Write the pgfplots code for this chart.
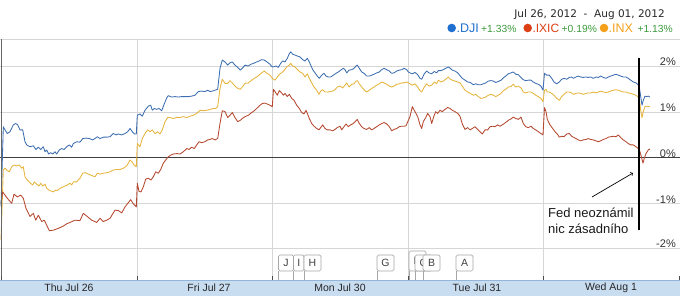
\documentclass[border=0pt]{standalone}
\usepackage{fontspec}
\setmainfont{Liberation Sans}
\newfontfamily\dvs{DejaVu Sans}
\usepackage{pgfplots}
\pgfplotsset{compat=1.18}
\usepackage{pgfplotstable}
\definecolor{cblue}{HTML}{3C6DB0}
\definecolor{cred}{HTML}{B5472E}
\definecolor{cyel}{HTML}{E6B43C}
\definecolor{lblue}{HTML}{1F6FD0}
\definecolor{lred}{HTML}{DC3F14}
\definecolor{lorange}{HTML}{F5A01A}
\definecolor{lgreen}{HTML}{3C9A3C}
\definecolor{gridc}{HTML}{D6D6D6}
\definecolor{band}{HTML}{C9DDF1}
\definecolor{bandline}{HTML}{93B5DA}
\definecolor{txt}{HTML}{333333}

\pgfplotstableread{
x y
1 -1.07
3.3 0.68
5 0.61
7.3 0.53
10 0.57
13.3 0.72
15.7 0.75
17.7 0.72
20 0.61
22.7 0.61
25 0.35
26.7 0.28
30 0.24
33.3 0.26
36 0.18
38.3 0.23
40.7 0.18
43.3 0.24
45 0.13
46.7 0.17
48.7 0.08
50.7 0.11
52.7 0.08
55 0.13
56.7 0.08
59.3 0.17
61.7 0.20
64 0.18
66.7 0.24
69.3 0.28
71.7 0.23
73.3 0.31
76.7 0.35
80 0.34
82.7 0.42
86 0.43
89.3 0.42
92.7 0.39
95 0.42
97.3 0.46
100 0.42
103.3 0.45
106.7 0.45
110 0.46
113.3 0.53
116 0.50
118.3 0.52
121.7 0.50
125 0.53
127.7 0.57
130 0.64
132.3 0.57
134.5 0.52
136.3 0.52
137.3 0.93
140 0.96
142.3 0.91
145 1.04
148.3 1.13
150.7 1.15
152.3 1.04
154.3 1.08
156.7 1.06
159 1.08
161.7 1.03
164.3 1.18
166.7 1.31
168.3 1.36
171.7 1.33
175 1.34
178.3 1.33
181.7 1.34
185 1.34
188.3 1.34
191.7 1.35
195 1.37
198.3 1.45
201.7 1.46
205 1.45
207.7 1.48
210 1.45
212.3 1.46
215 1.48
217.7 1.50
220 1.96
222.3 2.14
225 2.10
227.7 2.03
230 2.08
232.3 2.10
235 2.03
237.7 1.98
240.3 1.92
242.3 1.96
245 2.03
248.3 2.01
251 2.05
253.7 2.07
256.7 2.10
259 2.12
261.7 2.15
264.3 2.14
267 2.10
270 2.05
271.7 2.00
273.3 1.99
276 2.01
278.3 1.98
280.7 2.07
282.7 2.12
285 2.10
287.3 2.18
289.3 2.28
290.7 2.32
292.7 2.27
295 2.25
297.3 2.23
300 2.21
302.7 2.15
305 2.12
307.3 2.18
309.3 2.10
310.7 2.03
312.7 1.93
315 1.86
317.3 1.79
319.3 1.74
321.7 1.81
324 1.85
326 1.79
328.3 1.77
330.7 1.77
333.3 1.81
336 1.85
338.3 1.88
340.7 1.92
343.3 1.96
345 1.93
346.7 1.86
349 1.92
351.7 1.93
354 1.96
356 2.01
357.3 2.03
359.3 1.96
361.7 1.88
364 1.85
366.7 1.79
369.3 1.79
371.7 1.81
374 1.83
376.7 1.86
379.3 1.88
381.7 1.93
384 1.96
386.7 1.93
389.3 1.90
391.7 1.85
394 1.86
396.7 1.90
399.3 1.92
401.7 1.93
404 1.96
406.7 1.93
408.3 1.88
410 1.86
412.3 1.84
415 1.87
417.7 1.82
420 1.74
421.7 1.72
424.3 1.84
426.7 1.90
429 1.86
431.7 1.84
434.3 1.89
436.7 1.86
438.3 1.91
441 1.91
443.3 1.93
445.7 1.96
448.3 1.99
450.3 1.96
452.3 1.92
455 1.90
457.7 1.86
460 1.80
462.3 1.74
465 1.70
467.7 1.66
470.3 1.65
473.3 1.60
475.7 1.62
478.3 1.60
481 1.60
483.3 1.62
485.7 1.64
488.3 1.68
491 1.69
493.3 1.68
495.7 1.65
498.3 1.67
501 1.70
503.3 1.75
505.7 1.79
508.3 1.84
511 1.86
513.3 1.88
515.7 1.83
518.3 1.82
521 1.76
523.3 1.71
525.7 1.69
528.3 1.70
531 1.70
533.3 1.66
535.7 1.63
538.3 1.61
541 1.57
543 1.48
544.5 1.85
546.7 1.81
549.3 1.81
551.7 1.74
554 1.66
556.7 1.62
559.3 1.66
561.7 1.72
564 1.74
566.7 1.72
569.3 1.76
571.7 1.77
573.3 1.74
576 1.77
578.3 1.79
580.7 1.77
583.3 1.76
586 1.77
588.3 1.76
590.7 1.77
593.3 1.74
596 1.77
598.3 1.76
600.7 1.79
603.3 1.76
606 1.74
608.3 1.77
610.7 1.79
613.3 1.81
616 1.83
618.3 1.81
620.7 1.79
623.3 1.77
626 1.77
628.3 1.74
630.7 1.70
633.3 1.66
636 1.64
637.7 1.61
639.3 1.55
640.7 1.34
642 1.15
643.3 1.26
645 1.35
646.7 1.34
648.3 1.35
650 1.33
}\tdji

\pgfplotstableread{
x y
1 -1.80
3.3 -0.27
5 -0.23
6.7 -0.27
9.3 -0.31
11.7 -0.20
14 -0.16
16.7 -0.18
19.3 -0.16
21.7 -0.23
23.3 -0.20
25 -0.42
27.3 -0.49
30 -0.55
32.7 -0.60
34.3 -0.53
36.7 -0.58
39 -0.62
40.7 -0.56
42.7 -0.62
45 -0.58
46.7 -0.67
49 -0.71
50.7 -0.73
53.3 -0.75
55.7 -0.71
57.3 -0.72
60 -0.67
62.3 -0.65
65 -0.62
67.3 -0.60
70 -0.56
71.7 -0.60
73.3 -0.53
76.7 -0.53
80 -0.45
82.7 -0.34
85.3 -0.33
88.3 -0.36
91.7 -0.39
95 -0.42
97.3 -0.34
100 -0.36
103.3 -0.34
106.7 -0.33
110 -0.31
113.3 -0.27
116.7 -0.26
120 -0.26
123.3 -0.23
126.7 -0.18
128.3 -0.12
130 -0.05
132 -0.09
134 -0.16
136.3 -0.20
137.3 0.31
140 0.24
142.3 0.42
145 0.53
147.7 0.61
150 0.57
152.3 0.61
155 0.53
157.7 0.57
160 0.52
162.3 0.61
165 0.79
167.7 0.88
170 0.88
173.3 0.86
176.7 0.88
180 0.88
183.3 0.90
186.7 0.88
190 0.91
193.3 0.93
196.7 0.97
200 1.04
203.3 1.03
206.7 1.04
210 1.06
213.3 1.08
215.7 1.08
217.7 1.12
220 1.52
222.3 1.72
225 1.63
227.7 1.63
230 1.69
232.3 1.64
235 1.57
237.7 1.52
240.3 1.50
242.3 1.55
245 1.63
248.3 1.64
251.7 1.70
254.3 1.74
256.7 1.77
259 1.81
261.7 1.86
264.3 1.90
267 1.85
270 1.81
272.3 1.74
275 1.70
277.3 1.77
280 1.84
281.7 1.86
284 1.91
286.7 1.99
289.3 2.03
290.7 2.07
292.7 2.01
295 1.99
297.3 1.94
300 1.88
302.7 1.85
305 1.77
307.3 1.84
309.3 1.74
311.7 1.64
314 1.55
316.7 1.48
319 1.39
320.7 1.46
322.7 1.49
325 1.44
327.3 1.44
330 1.45
332.7 1.46
335 1.49
337.3 1.55
340 1.57
342.7 1.53
345 1.59
346.7 1.64
349 1.55
351.7 1.61
354 1.62
356 1.68
357.3 1.69
359.3 1.62
361.7 1.55
364 1.49
366.7 1.44
369.3 1.48
371.7 1.52
374 1.55
376.7 1.59
379.3 1.62
381.7 1.66
384 1.64
386.7 1.61
389.3 1.57
391.7 1.55
394 1.57
396.7 1.61
399.3 1.62
401.7 1.64
404 1.64
406.7 1.66
408.3 1.64
410 1.62
412.3 1.59
415 1.62
417.7 1.55
420 1.47
421.7 1.44
424.3 1.55
426.7 1.62
429 1.57
431.7 1.59
434.3 1.66
436.7 1.62
438.3 1.70
441 1.66
443.3 1.68
445.7 1.72
448.3 1.77
450.3 1.72
452.3 1.70
455 1.68
457.7 1.66
460 1.64
462.3 1.57
465 1.48
467.7 1.44
470.3 1.41
473.3 1.37
475.7 1.39
478.3 1.34
481 1.30
483.3 1.31
485.7 1.33
488.3 1.37
491 1.39
493.3 1.37
495.7 1.34
498.3 1.37
501 1.41
503.3 1.47
505.7 1.50
508.3 1.55
511 1.56
513.3 1.61
515.7 1.55
518.3 1.57
521 1.53
523.3 1.44
525.7 1.42
528.3 1.44
531 1.44
533.3 1.41
535.7 1.37
538.3 1.34
541 1.30
543 1.23
544.5 1.48
546 1.50
547.3 1.44
549.3 1.44
551.7 1.41
554 1.37
556.7 1.30
559.3 1.26
561.7 1.34
564 1.39
566.7 1.44
569.3 1.44
571.7 1.42
573.3 1.39
576 1.41
578.3 1.42
580.7 1.41
583.3 1.39
586 1.41
588.3 1.42
590.7 1.42
593.3 1.44
596 1.42
598.3 1.44
600.7 1.46
603.3 1.44
606 1.43
608.3 1.44
610.7 1.46
613.3 1.48
616 1.49
618.3 1.48
620.7 1.46
623.3 1.44
626 1.44
628.3 1.42
630.7 1.41
633.3 1.39
636 1.37
637.7 1.34
639.3 1.30
640.7 1.04
642 0.88
643.3 1.01
645 1.12
646.7 1.13
648.3 1.12
650 1.13
}\tinx

\pgfplotstableread{
x y
1 -1.00
2.7 -0.75
5 -0.82
7.3 -0.89
9.3 -0.94
11.7 -1.00
14 -0.80
17.3 -0.86
20.7 -0.82
23.3 -0.89
26 -1.11
30 -1.29
33.3 -1.22
35.7 -1.37
38.3 -1.26
41.7 -1.40
44.3 -1.37
49.3 -1.60
53.3 -1.59
58.3 -1.55
63.3 -1.50
66.7 -1.45
70 -1.42
75 -1.37
80 -1.38
83.3 -1.22
87.3 -1.29
91.7 -1.37
96.7 -1.42
100 -1.33
103.3 -1.40
106.7 -1.37
110 -1.33
115 -1.15
118.3 -1.16
121.7 -1.21
125 -1.08
130.7 -0.92
133.3 -1.01
136.3 -1.08
137.3 -0.56
139 -0.74
141 -0.75
143.3 -0.64
145.7 -0.47
148.3 -0.45
151 -0.49
153.3 -0.42
155.7 -0.31
158.3 -0.34
160.7 -0.26
163.3 -0.12
165.7 -0.05
168.3 0.02
171 0.06
173.3 0.08
176.7 0.09
180 0.08
183.3 0.13
186.7 0.20
189 0.18
191.7 0.23
194.3 0.20
196.7 0.28
199 0.35
201.7 0.33
205 0.35
207.7 0.39
210 0.40
212.3 0.42
215 0.39
217.7 0.42
220 0.75
222.3 1.03
225 1.01
227.7 0.88
230 0.93
232.3 0.99
235 0.88
237.7 0.79
240.3 0.82
242.3 0.86
245 0.90
248.3 0.93
251.7 0.99
254.3 1.03
256.7 1.08
259 1.13
261.7 1.18
264.3 1.20
267 1.18
270 1.15
272.3 1.12
273.5 1.50
275 1.45
277.3 1.37
279.3 1.47
281.7 1.42
283.3 1.37
285 1.41
287.3 1.34
289.3 1.39
291.7 1.30
294 1.26
296.7 1.15
299.3 1.08
301.7 0.99
304 0.96
306 1.04
307.3 0.97
309.3 0.86
311.7 0.75
314 0.69
316.7 0.64
319 0.61
320.7 0.66
322.7 0.72
325 0.64
327.3 0.61
330 0.61
332.7 0.59
335 0.62
337.3 0.66
340 0.69
341.7 0.61
344 0.68
346 0.74
348.3 0.68
350.7 0.72
353.3 0.75
356 0.81
357.3 0.84
359.3 0.75
361.7 0.68
364 0.64
366.7 0.62
369.3 0.66
371.7 0.61
374 0.64
376.7 0.68
379.3 0.72
381.7 0.75
384 0.77
386.7 0.74
389.3 0.68
391.7 0.59
394 0.62
396.7 0.64
399.3 0.68
401.7 0.69
404 0.69
406 0.70
408 0.80
410 0.90
412.3 1.12
415 1.01
417.7 0.90
420 0.72
421.7 0.64
423.3 0.79
425.7 0.88
427.7 0.97
430 0.90
431.7 0.75
433.7 0.90
435.7 1.01
437.7 0.97
440 1.04
442.3 1.01
445 1.06
447.7 1.10
450 1.08
452.3 1.04
455 1.01
457.7 0.97
460 0.91
462.3 0.74
465 0.62
467.7 0.66
470 0.61
472.3 0.64
475 0.68
477.7 0.62
480 0.57
482.3 0.52
485 0.61
487.7 0.61
490 0.68
492.3 0.69
495 0.68
497.7 0.72
500 0.69
502.3 0.72
504.3 0.75
506.7 0.79
509 0.83
511 0.85
513.3 0.89
515.7 0.86
518.3 0.84
521 0.89
523.3 0.75
525.7 0.68
528.3 0.66
531 0.69
533.3 0.64
535.7 0.61
538.3 0.57
541 0.53
543 0.50
544.5 1.10
546 1.01
547.3 0.84
550 0.72
552.7 0.64
555 0.57
557.3 0.52
559.3 0.45
561.7 0.47
564 0.46
566.7 0.52
569.3 0.53
571.7 0.47
573.3 0.45
576 0.42
578.3 0.39
580.7 0.37
583.3 0.39
586 0.40
588.3 0.42
590.7 0.40
593.3 0.39
596 0.37
598.3 0.35
600.7 0.37
603.3 0.40
606 0.42
608.3 0.45
610.7 0.46
613.3 0.47
616 0.46
618.3 0.50
620.7 0.44
623.3 0.39
626 0.35
628.3 0.31
630.7 0.28
633.3 0.28
636 0.24
638.3 0.20
640 0.13
641.7 -0.01
643 -0.12
644.3 -0.01
646 0.09
648.3 0.17
650 0.19
}\tixic

\begin{document}
\begin{tikzpicture}
\begin{axis}[
  at={(0pt,0pt)}, anchor=south west,
  scale only axis, width=680pt, height=241pt,
  xmin=0, xmax=680, ymin=-2.682, ymax=2.603,
  axis line style={draw=none},
  xtick={137,272,408,543}, ytick={-2,-1,1,2},
  xticklabels={}, yticklabels={},
  major tick length=0pt,
  grid=major, major grid style={draw=gridc, line width=0.8pt},
  clip mode=individual,
]
\draw[black!75, line width=1pt] (axis cs:0,0) -- (axis cs:680,0);
\addplot[cyel, line width=0.85pt, line join=round] table[x=x,y=y] {\tinx};
\addplot[cred, line width=0.85pt, line join=round] table[x=x,y=y] {\tixic};
\addplot[cblue, line width=0.85pt, line join=round] table[x=x,y=y] {\tdji};
\end{axis}
% frame lines
\draw[gridc, line width=0.8pt] (0pt,241pt) -- (680pt,241pt);
\draw[black!60, line width=1pt] (1pt,0pt) -- (1pt,241pt);
% right percent labels
\begin{scope}[every node/.style={anchor=east, inner sep=0pt, text=txt, font=\fontsize{11}{13}\selectfont}]
\node at (676pt,218.3pt) {2\%};
\node at (676pt,172.3pt) {1\%};
\node at (676pt,126.7pt) {0\%};
\node at (676pt,80pt) {-1\%};
\node at (676pt,36pt) {-2\%};
\end{scope}
% event flags
\begin{scope}[every node/.style={inner sep=0pt, text=black!75, font=\fontsize{10.5}{12}\selectfont}]
\foreach \a/\b/\t/\l in {278.5/293.5/25/J, 293.5/304/25/I, 304/321/25/H, 377/394/25/G, 409/426/29/D, 415/432/25/C, 423/440/25/B, 456/473/25/A}{
  \draw[black!35, line width=0.7pt] (\a pt,0pt) -- (\a pt,9pt);
  \draw[black!35, fill=white, line width=0.7pt, rounded corners=1.5pt] (\a pt,9pt) rectangle (\b pt,\t pt);
  \node at ({(\a+\b)/2*1pt},{(9+\t)/2*1pt}) {\l};
}
\end{scope}
% annotation
\draw[black, line width=1.3pt] (639pt,50pt) -- (639pt,222pt);
\draw[black, line width=0.7pt, ->] (592pt,83pt) -- (633pt,107pt);
\node[anchor=base west, inner sep=0pt, text=black!90, font=\fontsize{13}{15}\selectfont] at (548pt,62pt) {Fed neoznámil};
\node[anchor=base west, inner sep=0pt, text=black!90, font=\fontsize{13}{15}\selectfont] at (548pt,46pt) {nic zásadního};
% bottom band
\fill[band] (0pt,-16pt) rectangle (680pt,0pt);
\draw[bandline, line width=0.8pt] (0pt,0pt) -- (680pt,0pt);
\foreach \x in {1,137,272,408,543,679}{
  \draw[black!70, line width=1pt] (\x pt,0pt) -- (\x pt,4pt);
}
\begin{scope}[every node/.style={inner sep=0pt, text=black!85, font=\fontsize{10.5}{12}\selectfont}]
\node at (69pt,-8pt) {Thu Jul 26};
\node at (209pt,-8pt) {Fri Jul 27};
\node at (340pt,-8pt) {Mon Jul 30};
\node at (477pt,-8pt) {Tue Jul 31};
\node at (611pt,-8pt) {Wed Aug 1};
\end{scope}
% header
\node[anchor=base east, inner sep=0pt, text=black!85, font=\dvs\fontsize{10.5}{12}\selectfont] at (665pt,262pt) {Jul 26, 2012\ \ -\ \ Aug 01, 2012};
\fill[lblue] (451.7pt,252pt) circle (4.3pt);
\node[anchor=base west, inner sep=0pt, text=lblue, font=\fontsize{12.5}{14}\selectfont] at (456.5pt,247pt) {.DJI};
\node[anchor=base west, inner sep=0pt, text=lgreen, font=\fontsize{10.3}{12}\selectfont] at (481pt,247pt) {+1.33\%};
\fill[lred] (527.7pt,252pt) circle (4.3pt);
\node[anchor=base west, inner sep=0pt, text=lred, font=\fontsize{12}{14}\selectfont] at (532.3pt,247pt) {.IXIC};
\node[anchor=base west, inner sep=0pt, text=lgreen, font=\fontsize{10.3}{12}\selectfont] at (561.5pt,247pt) {+0.19\%};
\fill[lorange] (604pt,252pt) circle (4.3pt);
\node[anchor=base west, inner sep=0pt, text=lorange, font=\fontsize{12.5}{14}\selectfont] at (608.5pt,247pt) {.INX};
\node[anchor=base west, inner sep=0pt, text=lgreen, font=\fontsize{10.3}{12}\selectfont] at (637.3pt,247pt) {+1.13\%};
\pgfresetboundingbox
\path (0pt,-16pt) rectangle (680pt,280pt);
\end{tikzpicture}
\end{document}
